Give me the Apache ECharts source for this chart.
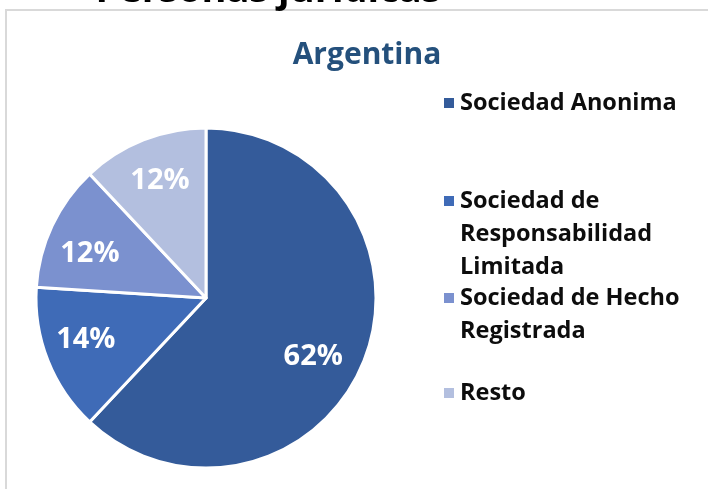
<!DOCTYPE html>
<html>
<head>
<meta charset="utf-8">
<script src="https://cdn.jsdelivr.net/npm/echarts@6/dist/echarts.min.js"></script>
<style>
  html, body { margin: 0; padding: 0; background: #fff; }
  #chart { width: 708px; height: 489px; }
</style>
</head>
<body>
<div id="chart"></div>
<script>
// datos del grafico
const categories = [
  'Sociedad Anonima',
  'Sociedad de Responsabilidad Limitada',
  'Sociedad de Hecho Registrada',
  'Resto'
];
const values = [62, 14, 12, 12];
const colors = ['#345B9A', '#3F6BB7', '#7B91CF', '#B3BFDF'];
// texto de la leyenda, con sus cortes de linea
const legendText = [
  'Sociedad Anonima',
  'Sociedad de\nResponsabilidad\nLimitada',
  'Sociedad de Hecho\nRegistrada',
  'Resto'
];

const FONT = '"Open Sans", "Noto Sans", sans-serif';
const LINE_H = 33;
const legendCenters = [103, 201, 298, 393];
// ajuste fino de las etiquetas como las coloca Excel
const labelOffsets = [[-9, 13], [-4, -4], [-3, 9], [0, -1]];

const pieData = categories.map((name, i) => ({
  name,
  value: values[i],
  itemStyle: { color: colors[i] }
}));

// una leyenda por entrada; lineas vacias delante para que el icono
// quede a la altura de la primera linea
const legends = categories.map((name, i) => {
  const lines = legendText[i].split('\n').length;
  const boxH = (2 * lines - 1) * LINE_H;
  const pad = '\n'.repeat(lines - 1);
  return {
    data: [name],
    orient: 'vertical',
    left: 442,
    top: legendCenters[i] - boxH / 2,
    padding: 0,
    itemWidth: 12,
    itemHeight: 12,
    icon: 'rect',
    selectedMode: false,
    formatter: () => pad + legendText[i],
    textStyle: {
      fontFamily: FONT,
      fontSize: 23.5,
      fontWeight: 'bold',
      color: '#0d0d0d',
      lineHeight: LINE_H
    }
  };
});

const chart = echarts.init(document.getElementById('chart'), null, { renderer: 'canvas' });

chart.setOption({
  backgroundColor: '#ffffff',
  animation: false,
  title: {
    text: 'Argentina',
    left: 362,
    top: 35,
    textAlign: 'center',
    textStyle: {
      fontFamily: FONT,
      fontSize: 30,
      fontWeight: 'bold',
      color: '#24507C'
    }
  },
  legend: legends,
  graphic: [
    {
      type: 'rect',
      z: -1,
      shape: { x: 6, y: 10, width: 800, height: 600 },
      style: { fill: 'none', stroke: '#d9d9d9', lineWidth: 2 }
    },
    {
      type: 'text',
      x: 268,
      y: -9,
      style: {
        text: 'Personas jurídicas',
        font: 'bold 38px ' + FONT,
        fill: '#000',
        align: 'center',
        verticalAlign: 'middle'
      }
    }
  ],
  series: [
    {
      type: 'pie',
      center: [206, 298],
      radius: [0, 170],
      startAngle: 90,
      clockwise: true,
      silent: true,
      label: { show: false },
      labelLine: { show: false },
      itemStyle: { borderColor: '#fff', borderWidth: 3 },
      data: pieData
    },
    {
      // serie transparente solo para las etiquetas
      type: 'pie',
      center: [206, 298],
      radius: [74, 170],
      startAngle: 90,
      clockwise: true,
      silent: true,
      z: 3,
      itemStyle: { color: 'transparent', borderWidth: 0 },
      label: {
        show: true,
        position: 'inside',
        formatter: '{c}%',
        fontFamily: FONT,
        fontSize: 29,
        fontWeight: 'bold',
        color: '#fff'
      },
      labelLine: { show: false },
      data: categories.map((name, i) => ({
        name,
        value: values[i],
        itemStyle: { color: 'transparent' },
        label: { offset: labelOffsets[i] }
      }))
    }
  ]
});
</script>
</body>
</html>
